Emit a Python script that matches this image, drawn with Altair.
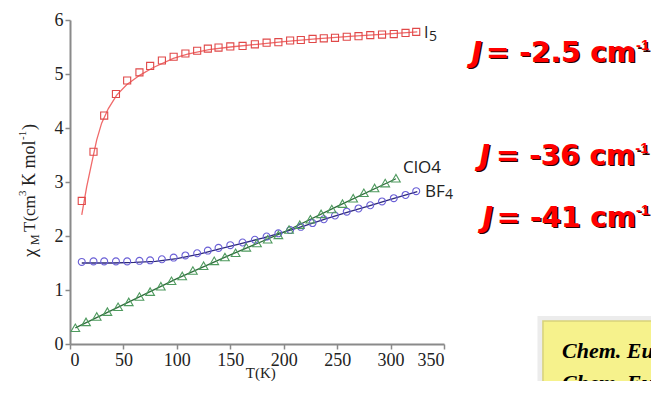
import altair as alt
import pandas as pd

# ---------------- data ----------------
T_sq = [11, 22, 32, 43, 53.5, 65, 75, 86, 97, 108, 119, 129, 139, 150, 161.5, 173, 184, 195,
        206, 216, 227, 237.5, 248, 259, 270, 281, 292, 303, 314, 324]
chi_i5 = [2.65, 3.56, 4.23, 4.63, 4.88, 5.03, 5.15, 5.25, 5.32, 5.38, 5.43, 5.47, 5.49, 5.51,
          5.52, 5.55, 5.58, 5.59, 5.62, 5.63, 5.65, 5.66, 5.67, 5.69, 5.70, 5.72, 5.73, 5.74,
          5.76, 5.78]
chi_bf4 = [1.52, 1.53, 1.53, 1.53, 1.53, 1.54, 1.55, 1.57, 1.60, 1.64, 1.68, 1.73, 1.78, 1.83,
           1.88, 1.93, 1.99, 2.05, 2.11, 2.17, 2.24, 2.31, 2.38, 2.45, 2.51, 2.57, 2.64, 2.70,
           2.76, 2.83]
T_tri = [5, 15, 25, 35, 45, 55, 65, 75, 85, 95, 105, 115, 125, 135, 145, 155, 165, 175, 185,
         195, 205, 215, 225, 235, 245, 255, 265, 275, 285, 295, 305]
chi_clo4 = [0.30, 0.41, 0.51, 0.60, 0.69, 0.78, 0.88, 0.97, 1.07, 1.17, 1.26, 1.36, 1.45, 1.54,
            1.61, 1.69, 1.79, 1.87, 1.94, 2.02, 2.12, 2.21, 2.31, 2.41, 2.50, 2.60, 2.70, 2.80,
            2.89, 2.98, 3.07]

fit_i5_T = [11, 15.6, 20.3, 25, 29.6, 35.9, 43.7, 53, 65.5, 78, 96.7, 110, 130, 150, 175, 200,
            230, 265, 295, 325]
fit_i5 = [2.39, 2.91, 3.35, 3.78, 4.09, 4.36, 4.61, 4.80, 4.98, 5.12, 5.29, 5.37, 5.45, 5.50,
          5.55, 5.60, 5.65, 5.70, 5.74, 5.78]
fit_bf4_T = [11, 40, 60, 80, 100, 120, 140, 160, 180, 200, 220, 240, 260, 280, 300, 325]
fit_bf4 = [1.50, 1.50, 1.51, 1.53, 1.58, 1.66, 1.76, 1.86, 1.96, 2.07, 2.19, 2.32, 2.44, 2.56,
           2.68, 2.82]
fit_clo4_T = [5, 50, 100, 150, 200, 250, 305]
fit_clo4 = [0.30, 0.73, 1.21, 1.65, 2.07, 2.55, 3.06]

x_ticks = [0, 50, 100, 150, 200, 250, 300, 350]
y_ticks = [0, 1, 2, 3, 4, 5, 6]

# annotation texts (anchored in data units)
series_labels = ["I", "5", "ClO4", "BF", "4"]
series_label_T = [331.3, 336.0, 311.6, 332.2, 350.9]
series_label_chi = [5.667, 5.620, 3.167, 2.722, 2.685]
series_label_size = [16, 14, 17, 17, 14]

j_main = ["= -2.5 cm", "= -36 cm", "= -41 cm"]
j_main_T = [529.7, 529.0, 529.7]
j_J_T = [385.5, 393.0, 395.8]
j_chi = [5.228, 3.315, 2.172]
j_sup_chi = [5.444, 3.537, 2.389]

ytitle_parts = ["χ", "M", "T(cm", "3", "K mol", "-1", ")"]
ytitle_T = [-37.4, -32.8, -37.4, -44.0, -37.4, -44.0, -37.4]
ytitle_chi = [1.611, 1.833, 2.074, 2.741, 2.926, 3.778, 3.963]
ytitle_size = [19, 12, 17, 11, 18, 11, 18]

xtitle = ["T(K)"]
xtitle_T = [178.5]
xtitle_chi = [-0.630]

cite_lines = ["Chem. Eur. J.", "Chem. Eur. J."]
cite_T = [460.4, 460.4]
cite_chi = [-0.259, -0.852]

# ---------------- encodings ----------------
xs = alt.Scale(domain=[0, 350], nice=False, zero=False)
ys = alt.Scale(domain=[0, 6], nice=False, zero=False)
X = alt.X("T:Q", scale=xs, axis=alt.Axis(values=x_ticks, title=None))
Y = alt.Y("chi:Q", scale=ys, axis=alt.Axis(values=y_ticks, title=None))


def df(t, c, **extra):
    d = pd.DataFrame({"T": t, "chi": c})
    for k, v in extra.items():
        d[k] = v
    return d


def points(t, c, shape, color, size):
    return alt.Chart(df(t, c)).mark_point(shape=shape, filled=False, color=color, size=size,
                                          strokeWidth=1.1, opacity=1).encode(x=X, y=Y)


def fit(t, c, color):
    return alt.Chart(df(t, c)).mark_line(color=color, strokeWidth=1.3).encode(x=X, y=Y)


layers = [
    fit(fit_i5_T, fit_i5, "#f06a6a"),
    fit(fit_bf4_T, fit_bf4, "#2e2a7a"),
    fit(fit_clo4_T, fit_clo4, "#2f6b3b"),
    points(T_sq, chi_i5, "square", "#e04848", 50),
    points(T_sq, chi_bf4, "circle", "#6a5fd6", 48),
    points(T_tri, chi_clo4, "triangle-up", "#4e9a5e", 75),
]

# series labels
lab = df(series_label_T, series_label_chi, txt=series_labels, sz=series_label_size)
layers.append(alt.Chart(lab).mark_text(align="left", baseline="alphabetic", font="Open Sans",
                                       color="#222").encode(
    x=X, y=Y, text="txt:N", size=alt.Size("sz:Q", scale=None, legend=None)))

# yellow citation box
box_shadow = pd.DataFrame({"T": [437.5], "T2": [570], "chi": [0.52], "chi2": [-1.2]})
box = pd.DataFrame({"T": [442.6], "T2": [570], "chi": [0.426], "chi2": [-1.2]})
layers.append(alt.Chart(box_shadow).mark_rect(color="#ececec").encode(
    x=X, x2="T2:Q", y=Y, y2="chi2:Q"))
layers.append(alt.Chart(box).mark_rect(color="#f6f28c", stroke="#d8d27a", strokeWidth=1.5).encode(
    x=X, x2="T2:Q", y=Y, y2="chi2:Q"))
cite = df(cite_T, cite_chi, txt=cite_lines)
layers.append(alt.Chart(cite).mark_text(align="left", baseline="alphabetic", font="Liberation Serif",
                                        fontWeight="bold", fontStyle="italic", fontSize=22,
                                        color="#000").encode(x=X, y=Y, text="txt:N"))

# J annotations with dark shadow
jm = df(j_main_T, j_chi, txt=j_main)
jj = df(j_J_T, j_chi, txt=["J", "J", "J"])
js = df(j_main_T, j_sup_chi, txt=["-1", "-1", "-1"])
for dx, col in [(1.5, "#2a0000"), (0, "#ff0000")]:
    layers.append(alt.Chart(jm).mark_text(align="right", baseline="alphabetic", font="DejaVu Sans",
                                          fontWeight="bold", fontSize=28, color=col, dx=dx, dy=dx)
                  .encode(x=X, y=Y, text="txt:N"))
    layers.append(alt.Chart(jj).mark_text(align="right", baseline="alphabetic", font="DejaVu Sans",
                                          fontWeight="bold", fontStyle="italic", fontSize=28,
                                          color=col, dx=dx, dy=dx)
                  .encode(x=X, y=Y, text="txt:N"))
    layers.append(alt.Chart(js).mark_text(align="left", baseline="alphabetic",
                                          font="Liberation Sans", fontWeight="bold", fontSize=15,
                                          color=col, dx=dx, dy=dx)
                  .encode(x=X, y=Y, text="txt:N"))

# axis titles built from pieces
yt = df(ytitle_T, ytitle_chi, txt=ytitle_parts, sz=ytitle_size)
layers.append(alt.Chart(yt).mark_text(align="left", baseline="middle", angle=270,
                                      font="Liberation Serif", color="#222").encode(
    x=X, y=Y, text="txt:N", size=alt.Size("sz:Q", scale=None, legend=None)))
xt = df(xtitle_T, xtitle_chi, txt=xtitle)
layers.append(alt.Chart(xt).mark_text(align="center", baseline="alphabetic",
                                      font="Liberation Serif", fontSize=15, color="#222").encode(
    x=X, y=Y, text="txt:N"))

chart = alt.layer(*layers).properties(
    width=374, height=324,
    autosize=alt.AutoSizeParams(type="none"),
    padding={"left": 62, "top": 12, "right": 207, "bottom": 37},
    background="white",
).configure_view(stroke=None).configure_axis(
    grid=False,
    domainColor="#8a8a8a", domainWidth=2,
    tickColor="#8a8a8a", tickWidth=1.5, tickSize=5,
    labelFont="Liberation Serif", labelFontSize=18, labelColor="#222",
    labelPadding=2,
)

chart.save("out.html", embed_options={"renderer": "svg", "actions": False})
